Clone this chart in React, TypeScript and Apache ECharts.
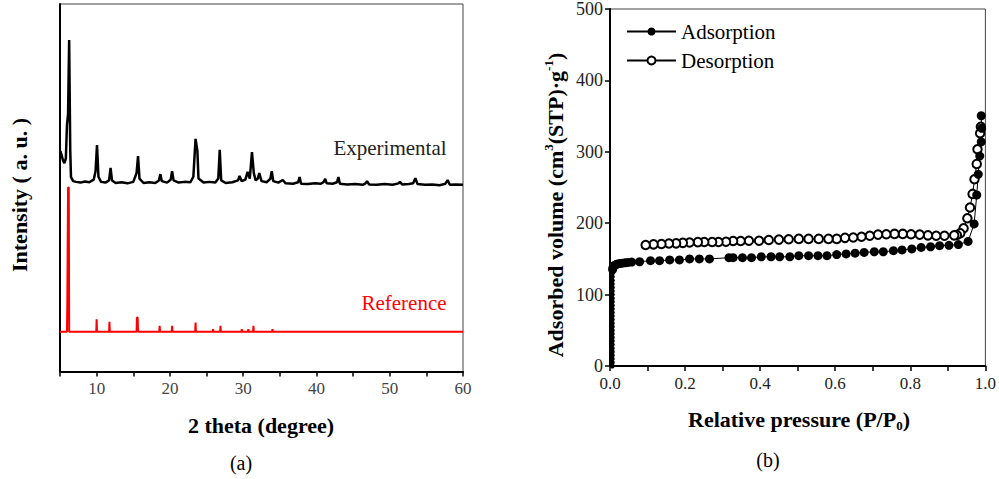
import React, { useEffect, useRef } from "react";
import * as echarts from "echarts";

// ---- Panel (a): XRD patterns (2θ, arbitrary intensity 0..1000) ----
const xrdExperimental: [number, number][] = [
  [5.05, 600], [5.2, 590], [5.4, 575], [5.6, 567], [5.8, 580], [5.95, 671], [6.1, 700], [6.25, 902], [6.4, 600], [6.5, 529],
  [6.8, 518], [7.2, 516], [7.8, 514], [8.4, 517], [9.0, 515], [9.6, 522], [9.85, 545], [10.05, 616], [10.25, 530], [10.6, 516],
  [11.2, 514], [11.7, 520], [11.9, 554], [12.1, 520], [12.6, 513], [13.4, 515], [14.2, 512], [15.0, 516], [15.45, 540], [15.65, 586],
  [15.85, 525], [16.4, 513], [17.2, 515], [18.0, 513], [18.5, 520], [18.7, 537], [18.9, 518], [19.6, 514], [20.1, 522], [20.3, 545],
  [20.5, 520], [21.2, 514], [22.0, 516], [22.8, 515], [23.2, 530], [23.5, 633], [23.75, 600], [23.9, 525], [24.6, 514], [25.4, 516],
  [26.2, 514], [26.6, 525], [26.8, 603], [27.0, 520], [27.6, 513], [28.5, 515], [29.3, 520], [29.5, 532], [29.8, 518], [30.3, 522],
  [30.6, 543], [30.9, 525], [31.2, 597], [31.45, 540], [31.7, 520], [32.0, 525], [32.2, 540], [32.5, 518], [33.2, 515], [33.7, 524],
  [33.9, 545], [34.1, 518], [34.8, 514], [35.4, 521], [35.8, 512], [36.8, 511], [37.5, 515], [37.7, 529], [37.9, 511], [38.8, 510],
  [39.8, 512], [40.6, 511], [41.0, 516], [41.2, 524], [41.4, 512], [42.2, 511], [42.8, 515], [43.0, 529], [43.2, 511], [44.2, 509],
  [45.3, 510], [46.3, 508], [46.7, 512], [46.9, 518], [47.2, 509], [48.2, 508], [49.3, 510], [50.4, 508], [51.2, 512], [51.4, 516],
  [51.7, 509], [52.6, 510], [53.2, 512], [53.5, 526], [53.8, 510], [54.8, 508], [55.8, 509], [56.8, 507], [57.6, 511], [57.9, 521],
  [58.2, 508], [59.0, 509], [60, 508],
];

const xrdReference: [number, number][] = [
  [5, 108], [5.95, 108], [6.0, 195], [6.1, 501], [6.2, 501], [6.25, 108],
  [9.95, 108], [10.0, 142], [10.05, 108], [11.7, 108], [11.75, 135], [11.8, 108],
  [15.45, 108], [15.5, 147], [15.6, 147], [15.65, 108], [18.55, 108], [18.6, 124], [18.65, 108],
  [20.25, 108], [20.3, 124], [20.35, 108], [23.45, 108], [23.5, 133], [23.55, 108],
  [25.85, 108], [25.9, 115], [25.95, 108], [26.85, 108], [26.9, 124], [26.95, 108],
  [29.75, 108], [29.8, 115], [29.85, 108], [30.65, 108], [30.7, 115], [30.75, 108],
  [31.35, 108], [31.4, 124], [31.45, 108], [33.95, 108], [34.0, 115], [34.05, 108], [60, 108],
];

const thetaTickLabels = [10, 20, 30, 40, 50, 60];

// ---- Panel (b): N2 isotherm (P/P0, cm3(STP)/g) ----
const adsorption: [number, number][] = [
  [0.006, 0], [0.006, 5], [0.006, 10], [0.006, 15], [0.006, 20], [0.006, 25], [0.006, 30], [0.006, 35],
  [0.006, 40], [0.006, 45], [0.006, 50], [0.006, 55], [0.006, 60], [0.006, 65], [0.006, 70], [0.006, 75],
  [0.006, 80], [0.006, 85], [0.006, 90], [0.006, 95], [0.006, 100], [0.006, 105], [0.006, 110], [0.006, 115],
  [0.006, 120], [0.006, 125], [0.006, 130], [0.007, 135], [0.008, 138], [0.01, 140],
  [0.013, 141], [0.016, 142], [0.02, 143], [0.026, 143.5], [0.032, 144], [0.04, 144.5], [0.048, 145],
  [0.058, 145.5], [0.079, 146], [0.108, 147.5], [0.132, 147.5], [0.159, 148.5], [0.185, 148.5],
  [0.212, 150], [0.238, 150], [0.265, 150], [0.317, 151.7], [0.328, 151.7], [0.353, 151.7], [0.377, 151.7],
  [0.403, 153], [0.429, 153], [0.452, 153], [0.479, 153], [0.503, 154.5], [0.529, 154.5], [0.554, 154.5],
  [0.578, 154.5], [0.604, 156], [0.629, 157], [0.653, 158], [0.677, 159], [0.704, 160], [0.728, 160],
  [0.755, 161.5], [0.778, 162.5], [0.804, 164], [0.829, 166], [0.854, 167], [0.878, 168.5], [0.903, 169],
  [0.928, 170], [0.954, 174.5], [0.97, 199], [0.977, 239.5], [0.981, 268.5], [0.985, 294], [0.989, 314],
  [0.99, 333], [0.989, 350.5],
];

const desorption: [number, number][] = [
  [0.988, 335], [0.986, 326], [0.979, 303.5], [0.977, 283], [0.971, 261.5], [0.966, 241], [0.959, 222],
  [0.952, 207], [0.942, 193], [0.933, 186], [0.924, 183.5], [0.917, 183], [0.891, 182.5], [0.869, 182.5],
  [0.847, 183], [0.825, 184], [0.802, 184.5], [0.78, 185], [0.758, 185], [0.736, 184.5], [0.714, 184],
  [0.692, 182.5], [0.67, 181], [0.648, 180], [0.626, 179.5], [0.604, 178], [0.582, 178], [0.556, 178],
  [0.529, 178], [0.503, 178], [0.476, 177.5], [0.45, 177], [0.423, 176.5], [0.397, 175.5], [0.37, 175.5],
  [0.348, 175], [0.328, 175], [0.309, 174], [0.289, 173.7], [0.272, 173.7], [0.251, 173.7], [0.234, 173.5],
  [0.212, 173], [0.194, 172.5], [0.176, 171.8], [0.157, 171.5], [0.137, 170.9], [0.116, 170.4], [0.095, 169.5],
];

const pressureTickLabels = ["0.0", "0.2", "0.4", "0.6", "0.8", "1.0"];
const volumeTickLabels = [0, 100, 200, 300, 400, 500];

const FONT = "Liberation Serif";

export default function App() {
  const ref = useRef<HTMLDivElement>(null);
  useEffect(() => {
    const chart = echarts.init(ref.current!, null, { renderer: "svg" });
    const axisLine = { show: true, lineStyle: { color: "#000", width: 2 } };
    chart.setOption({
      animation: false,
      backgroundColor: "#fff",
      textStyle: { fontFamily: FONT },
      grid: [
        { left: 60, top: 4, width: 403, height: 367.5, show: true, borderColor: "#444", borderWidth: 1 },
        { left: 610, top: 9, width: 378, height: 357, show: true, borderColor: "#444", borderWidth: 1 },
      ],
      xAxis: [
        {
          gridIndex: 0, type: "value", min: 5, max: 60, interval: 5,
          axisLine,
          axisTick: { inside: false, length: 5, lineStyle: { color: "#000", width: 1.5 } },
          axisLabel: {
            margin: 8, fontSize: 17, color: "#444", fontFamily: FONT,
            formatter: (v: number) => (thetaTickLabels.includes(Math.round(v)) && Math.abs(v - Math.round(v)) < 1e-6 ? String(Math.round(v)) : ""),
          },
          splitLine: { show: false },
        },
        {
          gridIndex: 1, type: "value", min: 0, max: 1, interval: 0.1,
          axisLine,
          axisTick: { inside: false, length: 5, lineStyle: { color: "#000", width: 1.5 } },
          axisLabel: {
            margin: 9, fontSize: 17, color: "#222", fontFamily: FONT,
            formatter: (v: number) => { const s = v.toFixed(1); return pressureTickLabels.includes(s) ? s : ""; },
          },
          splitLine: { show: false },
        },
      ],
      yAxis: [
        {
          gridIndex: 0, type: "value", min: 0, max: 1000,
          axisLine, axisTick: { show: false }, axisLabel: { show: false }, splitLine: { show: false },
        },
        {
          gridIndex: 1, type: "value", min: 0, max: 500, interval: 100,
          axisLine,
          axisTick: { inside: false, length: 5, lineStyle: { color: "#000", width: 1.5 } },
          axisLabel: {
            margin: 7, fontSize: 18, color: "#222", fontFamily: FONT,
            formatter: (v: number) => (volumeTickLabels.includes(v) ? String(v) : ""),
          },
          splitLine: { show: false },
        },
      ],
      legend: {
        data: ["Adsorption", "Desorption"],
        orient: "vertical",
        left: 626,
        top: 21,
        padding: 0,
        itemWidth: 49,
        itemHeight: 10,
        itemGap: 8,
        textStyle: { fontSize: 21, fontFamily: FONT, color: "#000" },
      },
      series: [
        {
          name: "Experimental", type: "line", xAxisIndex: 0, yAxisIndex: 0, data: xrdExperimental,
          symbol: "none", lineStyle: { color: "#000", width: 2.5 }, itemStyle: { color: "#000" },
        },
        {
          name: "Reference", type: "line", xAxisIndex: 0, yAxisIndex: 0, data: xrdReference,
          symbol: "none", lineStyle: { color: "#ff0000", width: 2 }, itemStyle: { color: "#ff0000" },
        },
        {
          name: "Desorption", type: "line", xAxisIndex: 1, yAxisIndex: 1, data: desorption,
          symbol: "emptyCircle", symbolSize: 8.5, lineStyle: { color: "#000", width: 1 },
          itemStyle: { color: "#000", borderWidth: 1 },
        },
        {
          name: "Adsorption", type: "line", xAxisIndex: 1, yAxisIndex: 1, data: adsorption,
          symbol: "circle",
          symbolSize: (val: number[]) => (val[0] < 0.0065 ? 5 : 9),
          lineStyle: { color: "#000", width: 1 }, itemStyle: { color: "#000" },
        },
      ],
      graphic: [
        {
          type: "text", x: 19, y: 195, rotation: Math.PI / 2,
          style: { text: "Intensity ( a. u. )", font: `bold 22px ${FONT}`, fill: "#000", textAlign: "center", textVerticalAlign: "middle" },
        },
        {
          type: "text", x: 261, y: 425,
          style: { text: "2 theta (degree)", font: `bold 22px ${FONT}`, fill: "#000", textAlign: "center", textVerticalAlign: "middle" },
        },
        {
          type: "text", x: 390, y: 148,
          style: { text: "Experimental", font: `21px ${FONT}`, fill: "#222", textAlign: "center", textVerticalAlign: "middle" },
        },
        {
          type: "text", x: 404, y: 303,
          style: { text: "Reference", font: `21px ${FONT}`, fill: "#ff0000", textAlign: "center", textVerticalAlign: "middle" },
        },
        {
          type: "text", x: 241, y: 463,
          style: { text: "(a)", font: `20px ${FONT}`, fill: "#000", textAlign: "center", textVerticalAlign: "middle" },
        },
        {
          type: "text", x: 768, y: 460,
          style: { text: "(b)", font: `20px ${FONT}`, fill: "#000", textAlign: "center", textVerticalAlign: "middle" },
        },
        {
          type: "text", x: 555, y: 205, rotation: Math.PI / 2,
          style: {
            text: "{t|Adsorbed volume (cm}{s|3}{t|(STP)·g}{s|-1}{t|)}",
            textAlign: "center", textVerticalAlign: "middle",
            rich: {
              t: { fontSize: 22, fontWeight: "bold", fontFamily: FONT, fill: "#000", lineHeight: 26 },
              s: { fontSize: 13, fontWeight: "bold", fontFamily: FONT, fill: "#000", lineHeight: 14, verticalAlign: "top" },
            },
          },
        },
        {
          type: "text", x: 799, y: 419,
          style: {
            text: "{t|Relative pressure (P/P}{s|0}{t|)}",
            textAlign: "center", textVerticalAlign: "middle",
            rich: {
              t: { fontSize: 22, fontWeight: "bold", fontFamily: FONT, fill: "#000", lineHeight: 26 },
              s: { fontSize: 13, fontWeight: "bold", fontFamily: FONT, fill: "#000", lineHeight: 14, verticalAlign: "bottom" },
            },
          },
        },
      ],
    });
    return () => chart.dispose();
  }, []);
  return <div ref={ref} style={{ position: "fixed", left: 0, top: 0, width: 999, height: 479 }} />;
}
